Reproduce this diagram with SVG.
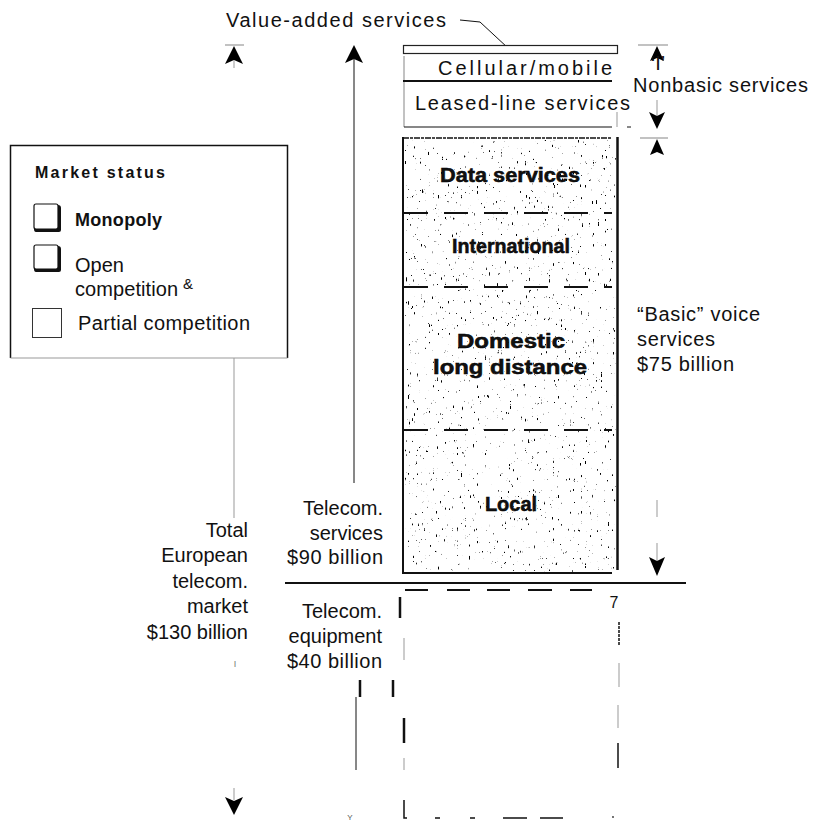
<svg xmlns="http://www.w3.org/2000/svg" width="821" height="822" viewBox="0 0 821 822">
<defs>
<style>
text{font-family:"Liberation Sans",Arial,sans-serif;fill:#111}
.t{font-size:20px}
.b{font-size:20px;font-weight:bold;stroke:#000;stroke-width:0.5}
.ln{stroke:#111;fill:none}
.gr{stroke:#999;fill:none}
.ah{fill:#000;stroke:none}
</style>
<filter id="speck" filterUnits="userSpaceOnUse" x="405" y="140" width="211" height="432">
<feTurbulence type="fractalNoise" baseFrequency="0.75 0.18" numOctaves="3" seed="11" result="n"/>
<feColorMatrix in="n" type="matrix" values="0 0 0 0 0  0 0 0 0 0  0 0 0 0 0  12 0 0 0 -8.7"/>
</filter>
</defs>
<rect width="821" height="822" fill="#fff"/>

<g id="stipple">
<rect x="405" y="140" width="211" height="432" fill="#000" filter="url(#speck)"/>
</g>

<g id="connectors">
<path class="ln" stroke-width="1" d="M460,20 L480,22 L508,48"/>
<circle cx="509" cy="51" r="1.8" fill="#111"/>
<line class="gr" x1="225" y1="45" x2="244" y2="45" stroke-width="1.2"/>
<path class="ah" d="M234,46 L243,64 L234,60 L225,64 Z"/>
<line class="gr" x1="234" y1="60" x2="234" y2="68" stroke-width="1"/>
<line class="gr" x1="234" y1="358" x2="234" y2="518" stroke-width="1"/>
<text x="235" y="667" style="font-size:9px;fill:#777" text-anchor="middle">I</text>
<line class="gr" x1="234" y1="788" x2="234" y2="800" stroke-width="1"/>
<path class="ah" d="M234,815 L243,797 L234,801 L225,797 Z"/>
<path class="ah" d="M354,45 L363,63 L354,59 L345,63 Z"/>
<line class="ln" x1="354" y1="58" x2="354" y2="483" stroke-width="1"/>
<line class="ln" x1="360" y1="680" x2="360" y2="697" stroke-width="2.5"/>
<line class="ln" x1="393" y1="680" x2="393" y2="697" stroke-width="2.5"/>
<line class="ln" x1="356" y1="697" x2="356" y2="770" stroke-width="1"/>
<text x="350" y="820" style="font-size:8px;fill:#555" text-anchor="middle">Y</text>
<line class="gr" x1="638" y1="45" x2="668" y2="45" stroke-width="1.2"/>
<path class="ah" d="M657,46 L664,61 L657,58 L650,61 Z"/>
<line class="gr" x1="657" y1="100" x2="657" y2="116" stroke-width="1"/>
<path class="ah" d="M657,129 L665,112 L657,116 L649,112 Z"/>
<line class="ln" x1="627" y1="127" x2="631" y2="127" stroke-width="1"/>
<line class="gr" x1="640" y1="138" x2="668" y2="138" stroke-width="1.2"/>
<path class="ah" d="M657,139 L664,155 L657,152 L650,155 Z"/>
<line class="gr" x1="657" y1="500" x2="657" y2="517" stroke-width="1"/>
<line class="gr" x1="657" y1="543" x2="657" y2="562" stroke-width="1"/>
<path class="ah" d="M657,576 L665,557 L657,561 L649,557 Z"/>
<line class="ln" x1="285" y1="583" x2="686" y2="583" stroke-width="2"/>
</g>

<g id="value-added">
<text class="t" x="226" y="27" textLength="220" lengthAdjust="spacing">Value-added  services</text>
</g>

<g id="nonbasic-box">
<rect x="403.5" y="45.5" width="214" height="8" fill="#fff" stroke="#222" stroke-width="1.2"/>
<line class="gr" x1="404" y1="56" x2="404" y2="127" stroke-width="1.2" stroke="#777"/>
<line class="ln" x1="404" y1="127" x2="612" y2="127" stroke-width="1.2"/>
<line class="gr" x1="617" y1="112" x2="617" y2="127" stroke-width="1"/>
<line class="ln" x1="403" y1="81" x2="612" y2="81" stroke-width="2"/>
<text class="t" x="438" y="75" textLength="174" lengthAdjust="spacing">Cellular/mobile</text>
<text class="t" x="415" y="110" textLength="215" lengthAdjust="spacing">Leased-line  services</text>
</g>

<g id="nonbasic-label">
<text class="t" x="658" y="70" text-anchor="middle">‘I’</text>
<text class="t" x="633" y="92" textLength="175" lengthAdjust="spacing">Nonbasic services</text>
</g>

<g id="legend">
<path class="ln" stroke-width="1.5" d="M10.5,358 V145.5 H287.5 V358"/>
<line class="gr" x1="10.5" y1="358" x2="287.5" y2="358" stroke-width="1"/>
<text x="35" y="178" style="font-size:16px;font-weight:bold" textLength="130" lengthAdjust="spacing">Market  status</text>
<rect x="34" y="204" width="24" height="25" rx="2" fill="#fff" stroke="#111" stroke-width="1.2"/>
<path d="M58,205 Q61,205 61,208 V230 Q61,232 59,232 H36 Q34,232 34,229 L58,229 Z" fill="#111"/>
<text x="75" y="226" style="font-size:18px;font-weight:bold" textLength="87" lengthAdjust="spacing">Monopoly</text>
<rect x="34" y="245" width="24" height="24" rx="2" fill="#fff" stroke="#111" stroke-width="1.2"/>
<path d="M58,246 Q61,246 61,249 V270 Q61,272 59,272 H36 Q34,272 34,269 L58,269 Z" fill="#111"/>
<text class="t" x="75" y="272">Open</text>
<text class="t" x="75" y="296" textLength="103" lengthAdjust="spacing">competition</text>
<text x="183" y="289" style="font-size:15px">&amp;</text>
<rect x="32.5" y="308.5" width="29" height="29" fill="#fff" stroke="#333" stroke-width="1"/>
<text class="t" x="78" y="330" textLength="172" lengthAdjust="spacing">Partial  competition</text>
</g>

<g id="basic-box">
<line class="ln" x1="403" y1="138" x2="612" y2="138" stroke-width="1.5" stroke-dasharray="6 1 3 1"/>
<line class="ln" x1="403" y1="137" x2="403" y2="574" stroke-width="2"/>
<line class="ln" x1="617.5" y1="137" x2="617.5" y2="570" stroke-width="2.5"/>
<line class="ln" x1="403" y1="573" x2="612" y2="573" stroke-width="2"/>
<line class="ln" x1="404" y1="213" x2="612" y2="213" stroke-width="2" stroke-dasharray="24 16"/>
<line class="ln" x1="404" y1="287" x2="612" y2="287" stroke-width="2" stroke-dasharray="24 16"/>
<line class="ln" x1="404" y1="430" x2="612" y2="430" stroke-width="2" stroke-dasharray="24 16"/>
<text class="b" x="510" y="182" text-anchor="middle" textLength="140" lengthAdjust="spacingAndGlyphs">Data services</text>
<text class="b" x="511" y="253" text-anchor="middle" textLength="118" lengthAdjust="spacingAndGlyphs">International</text>
<text class="b" x="511" y="348" text-anchor="middle" textLength="108" lengthAdjust="spacingAndGlyphs">Domestic</text>
<text class="b" x="510" y="374" text-anchor="middle" textLength="154" lengthAdjust="spacingAndGlyphs">long distance</text>
<text class="b" x="511" y="511" text-anchor="middle">Local</text>
</g>

<g id="basic-label">
<text class="t" x="637" y="321" textLength="123" lengthAdjust="spacing">“Basic”  voice</text>
<text class="t" x="637" y="346" textLength="78" lengthAdjust="spacing">services</text>
<text class="t" x="637" y="371" textLength="97" lengthAdjust="spacing">$75  billion</text>
</g>

<g id="services-label">
<text class="t" x="383" y="515" text-anchor="end">Telecom.</text>
<text class="t" x="383" y="540" text-anchor="end">services</text>
<text class="t" x="383" y="564" text-anchor="end" textLength="96" lengthAdjust="spacing">$90 billion</text>
</g>

<g id="total-label">
<text class="t" x="248" y="537" text-anchor="end">Total</text>
<text class="t" x="248" y="562" text-anchor="end">European</text>
<text class="t" x="248" y="588" text-anchor="end">telecom.</text>
<text class="t" x="248" y="613" text-anchor="end">market</text>
<text class="t" x="248" y="639" text-anchor="end">$130 billion</text>
</g>

<g id="equipment-label">
<text class="t" x="382" y="618" text-anchor="end">Telecom.</text>
<text class="t" x="382" y="643" text-anchor="end">equipment</text>
<text class="t" x="382" y="668" text-anchor="end" textLength="95" lengthAdjust="spacing">$40  billion</text>
</g>

<g id="equipment-box">
<path class="ln" stroke-width="2" d="M405,590 H428 M447,590 H470 M487,590 H510 M528,590 H552 M570,590 H592"/>
<text x="614" y="608" style="font-size:16px" text-anchor="middle">7</text>
<line class="ln" x1="400" y1="597" x2="400" y2="618" stroke-width="2.5"/>
<line class="gr" x1="404" y1="638" x2="404" y2="660" stroke-width="1"/>
<line class="ln" x1="404" y1="718" x2="404" y2="743" stroke-width="2.5"/>
<line class="gr" x1="404" y1="758" x2="404" y2="770" stroke-width="1"/>
<path class="ln" stroke-width="1.5" d="M404,800 V818 H407"/>
<path class="ln" stroke-width="1.5" d="M435,818 H440 M470,818 H475 M503,818 H527 M540,818 H563"/>
<circle cx="613" cy="817" r="0.9" fill="#333"/>
<line class="ln" x1="619" y1="622" x2="619" y2="645" stroke-width="1.5" stroke-dasharray="3 1"/>
<line class="gr" x1="619" y1="663" x2="619" y2="687" stroke-width="1"/>
<line class="gr" x1="618" y1="705" x2="618" y2="728" stroke-width="1"/>
<line class="ln" x1="618" y1="743" x2="618" y2="768" stroke-width="1.5"/>
</g>
</svg>
